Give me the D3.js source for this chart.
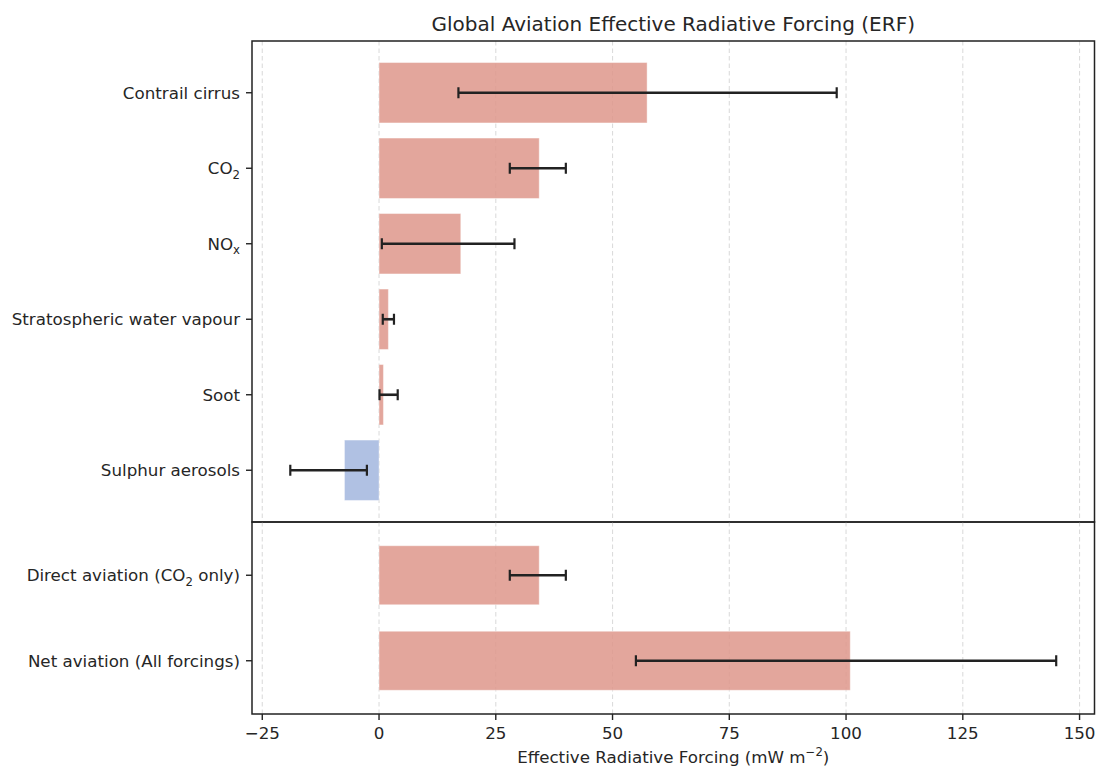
<!DOCTYPE html>
<html><head><meta charset="utf-8">
<script src="https://cdn.jsdelivr.net/npm/d3@7"></script>
<style>body{margin:0;background:#fff;} text{font-family:"DejaVu Sans",sans-serif;fill:#262626;}</style>
</head><body><svg id="c" width="1099" height="767"></svg>
<script>
// Data
const topCategories = ["Contrail cirrus","CO2","NOx","Stratospheric water vapour","Soot","Sulphur aerosols"];
const topValues = [57.4, 34.3, 17.5, 2.0, 0.94, -7.4];
const topLow = [17, 28, 0.6, 0.8, 0.1, -19];
const topHigh = [98, 40, 29, 3.2, 4.0, -2.6];
const bottomCategories = ["Direct aviation (CO2 only)","Net aviation (All forcings)"];
const bottomValues = [34.3, 100.9];
const bottomLow = [28, 55];
const bottomHigh = [40, 145];
const xTicks = [-25, 0, 25, 50, 75, 100, 125, 150];
const xDomain = [-27.2, 153.2];

const svg = d3.select("#c");
const L = 252, R = 1094.5, T = 41, MID = 522, B = 714;
const FS = 16.7;
const x = d3.scaleLinear().domain(xDomain).range([L, R]);
const yTop = d3.scaleBand().domain(topCategories).range([T+14, MID-14]).paddingInner(0.2).paddingOuter(0.1);
const yBot = d3.scaleBand().domain(bottomCategories).range([MID+10.5, B-10.5]).paddingInner(0.31).paddingOuter(0.155);

const posFill = "rgb(222,150,139)", negFill = "rgb(162,182,222)";

function labelText(sel, name){
  const parts = {
    "CO2": [["CO",0],["2",1]],
    "NOx": [["NO",0],["x",1]],
    "Direct aviation (CO2 only)": [["Direct aviation (CO",0],["2",1],[" only)",2]]
  }[name] || [[name,0]];
  parts.forEach(([t,k])=>{
    const ts = sel.append("tspan").text(t);
    if(k===1) ts.attr("font-size",11.7).attr("dy",4.5);
    if(k===2) ts.attr("dy",-4.5);
  });
}

function panel(cats, vals, lo, hi, y, y0, y1){
  const g = svg.append("g");
  g.selectAll(".grid").data(xTicks).join("line")
    .attr("x1",d=>x(d)).attr("x2",d=>x(d)).attr("y1",y0).attr("y2",y1)
    .attr("stroke","#dcdcdc").attr("stroke-width",1.1).attr("stroke-dasharray","4.5,3");
  g.selectAll(".bar").data(cats).join("rect")
    .attr("x",(d,i)=>x(Math.min(0,vals[i])))
    .attr("width",(d,i)=>Math.abs(x(vals[i])-x(0)))
    .attr("y",d=>y(d)).attr("height",y.bandwidth())
    .attr("fill",(d,i)=>vals[i]>=0?posFill:negFill).attr("fill-opacity",0.85)
    .attr("stroke","#fff").attr("stroke-opacity",0.4).attr("stroke-width",1);
  const eb = g.selectAll(".eb").data(cats).join("g");
  eb.append("line").attr("x1",(d,i)=>x(lo[i])).attr("x2",(d,i)=>x(hi[i]))
    .attr("y1",d=>y(d)+y.bandwidth()/2).attr("y2",d=>y(d)+y.bandwidth()/2)
    .attr("stroke","#222").attr("stroke-width",2.6);
  [lo,hi].forEach(arr=>{
    eb.append("line").attr("x1",(d,i)=>x(arr[i])).attr("x2",(d,i)=>x(arr[i]))
      .attr("y1",d=>y(d)+y.bandwidth()/2-5.5).attr("y2",d=>y(d)+y.bandwidth()/2+5.5)
      .attr("stroke","#222").attr("stroke-width",2.2);
  });
  g.selectAll(".yt").data(cats).join("line")
    .attr("x1",L-6).attr("x2",L).attr("y1",d=>y(d)+y.bandwidth()/2).attr("y2",d=>y(d)+y.bandwidth()/2)
    .attr("stroke","#222").attr("stroke-width",1.4);
  g.selectAll(".yl").data(cats).join("text")
    .attr("x",L-12).attr("y",d=>y(d)+y.bandwidth()/2+6).attr("text-anchor","end").attr("font-size",FS)
    .each(function(d){ labelText(d3.select(this), d); });
  g.append("rect").attr("x",L).attr("y",y0).attr("width",R-L).attr("height",y1-y0)
    .attr("fill","none").attr("stroke","#222").attr("stroke-width",1.5);
}

panel(topCategories, topValues, topLow, topHigh, yTop, T, MID);
panel(bottomCategories, bottomValues, bottomLow, bottomHigh, yBot, MID, B);

const xa = svg.append("g");
xa.selectAll("line").data(xTicks).join("line")
  .attr("x1",d=>x(d)).attr("x2",d=>x(d)).attr("y1",B).attr("y2",B+6)
  .attr("stroke","#222").attr("stroke-width",1.4);
xa.selectAll("text").data(xTicks).join("text")
  .attr("x",d=>x(d)).attr("y",B+25).attr("text-anchor","middle").attr("font-size",FS)
  .text(d=>d<0?"\u2212"+Math.abs(d):d);

const xl = svg.append("text").attr("x",(L+R)/2).attr("y",763).attr("text-anchor","middle").attr("font-size",FS);
xl.append("tspan").text("Effective Radiative Forcing (mW m");
xl.append("tspan").text("\u22122").attr("font-size",11.7).attr("dy",-7);
xl.append("tspan").text(")").attr("dy",7);

svg.append("text").attr("x",(L+R)/2).attr("y",31).attr("text-anchor","middle").attr("font-size",20).text("Global Aviation Effective Radiative Forcing (ERF)");
</script></body></html>
